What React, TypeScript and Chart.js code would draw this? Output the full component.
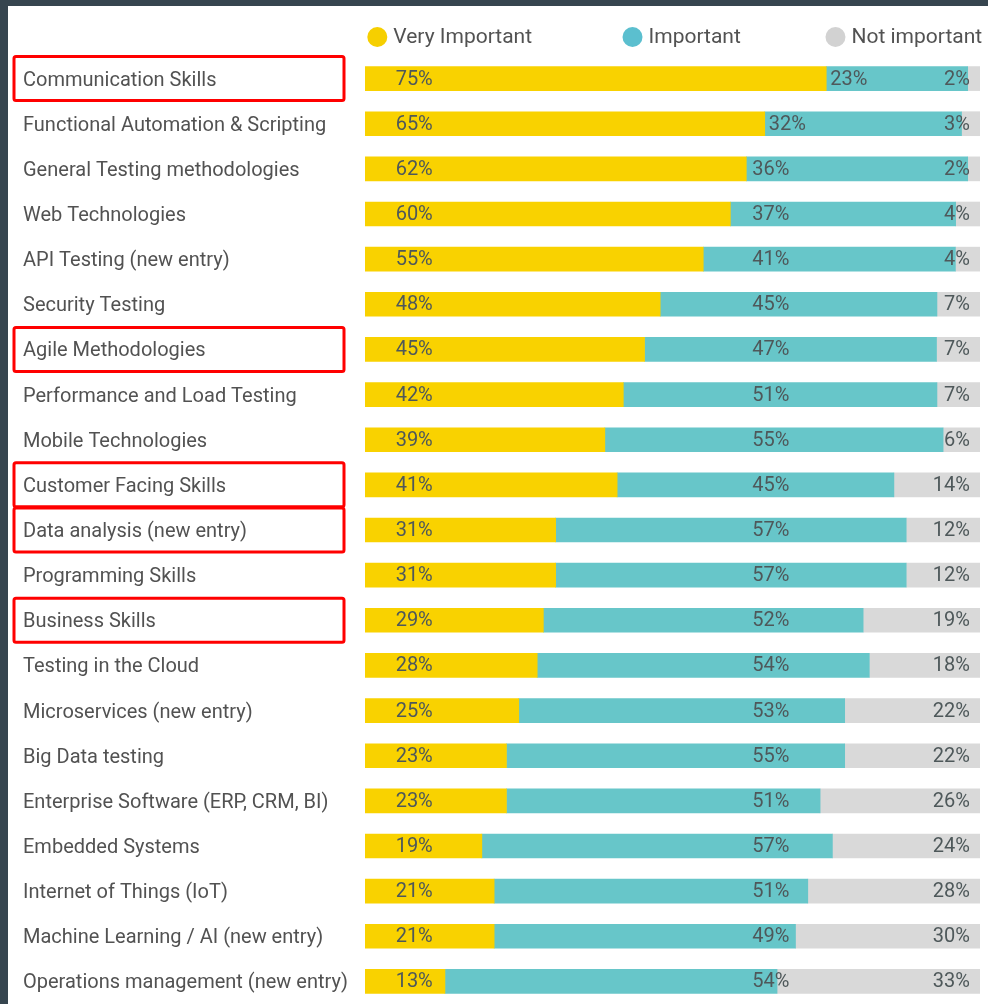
import React, { useEffect, useRef } from "react";
import { Chart, registerables } from "chart.js";

Chart.register(...registerables);

const categories: string[] = [
  "Communication Skills",
  "Functional Automation & Scripting",
  "General Testing methodologies",
  "Web Technologies",
  "API Testing (new entry)",
  "Security Testing",
  "Agile Methodologies",
  "Performance and Load Testing",
  "Mobile Technologies",
  "Customer Facing Skills",
  "Data analysis (new entry)",
  "Programming Skills",
  "Business Skills",
  "Testing in the Cloud",
  "Microservices (new entry)",
  "Big Data testing",
  "Enterprise Software (ERP, CRM, BI)",
  "Embedded Systems",
  "Internet of Things (IoT)",
  "Machine Learning / AI (new entry)",
  "Operations management (new entry)",
];

const veryImportant: number[] = [75, 65, 62, 60, 55, 48, 45, 42, 39, 41, 31, 31, 29, 28, 25, 23, 23, 19, 21, 21, 13];
const important: number[] = [23, 32, 36, 37, 41, 45, 47, 51, 55, 45, 57, 57, 52, 54, 53, 55, 51, 57, 51, 49, 54];
const notImportant: number[] = [2, 3, 2, 4, 4, 7, 7, 7, 6, 14, 12, 12, 19, 18, 22, 22, 26, 24, 28, 30, 33];

const seriesNames: string[] = ["Very Important", "Important", "Not important"];
const highlighted: string[] = [
  "Communication Skills",
  "Agile Methodologies",
  "Customer Facing Skills",
  "Data analysis (new entry)",
  "Business Skills",
];

const BAR_COLORS = ["#F9D200", "#67C6C9", "#D9D9D9"];
const LEGEND_COLORS = ["#F6CF00", "#5BBFCF", "#D2D2D2"];
const TEXT_COLOR = "#525252";
const VALUE_COLOR = "#4e585a";
const FONT = "Roboto";

const rawSeries = [veryImportant, important, notImportant];
const totals = categories.map((_, i) => veryImportant[i] + important[i] + notImportant[i]);
const normalized = rawSeries.map((s) => s.map((v, i) => (v * 100) / totals[i]));

const overlayPlugin = {
  id: "overlay",
  afterDatasetsDraw(chart: any) {
    const ctx = chart.ctx as CanvasRenderingContext2D;
    const xs = chart.scales.x;
    const area = chart.chartArea;
    ctx.save();
    ctx.font = `20px ${FONT}`;
    ctx.fillStyle = VALUE_COLOR;
    ctx.textBaseline = "middle";
    for (let d = 0; d < 3; d++) {
      const meta = chart.getDatasetMeta(d);
      meta.data.forEach((bar: any, j: number) => {
        const label = `${rawSeries[d][j]}%`;
        const y = bar.y + 1;
        const w = ctx.measureText(label).width;
        if (d === 0) {
          ctx.textAlign = "center";
          ctx.fillText(label, xs.getPixelForValue(8), y);
        } else if (d === 1) {
          ctx.textAlign = "center";
          const start = Math.min(bar.base, bar.x);
          const cx = Math.max(xs.getPixelForValue(66), start + 4 + w / 2);
          ctx.fillText(label, cx, y);
        } else {
          ctx.textAlign = "right";
          ctx.fillText(label, area.right - 10, y);
        }
      });
    }
    ctx.restore();
  },
  afterDraw(chart: any) {
    const ctx = chart.ctx as CanvasRenderingContext2D;
    const xs = chart.scales.x;
    const ys = chart.scales.y;
    ctx.save();
    // legend
    const legendX = [2, 43.5, 76.5];
    ctx.font = `21px ${FONT}`;
    ctx.textBaseline = "middle";
    ctx.textAlign = "left";
    seriesNames.forEach((name, i) => {
      const cx = xs.getPixelForValue(legendX[i]);
      const cy = 31;
      ctx.beginPath();
      ctx.arc(cx, cy, 10, 0, Math.PI * 2);
      ctx.fillStyle = LEGEND_COLORS[i];
      ctx.fill();
      ctx.fillStyle = TEXT_COLOR;
      ctx.fillText(name, cx + 16, cy + 1);
    });
    // highlight boxes
    ctx.strokeStyle = "#FF0000";
    ctx.lineWidth = 3;
    highlighted.forEach((name) => {
      const idx = categories.indexOf(name);
      if (idx < 0) return;
      const cy = ys.getPixelForValue(idx);
      const x0 = 6;
      const x1 = 336;
      const top = cy - 22;
      const h = 44;
      ctx.beginPath();
      if ((ctx as any).roundRect) {
        (ctx as any).roundRect(x0, top, x1 - x0, h, 2);
      } else {
        ctx.rect(x0, top, x1 - x0, h);
      }
      ctx.stroke();
    });
    ctx.restore();
  },
};

export default function App() {
  const canvasRef = useRef<HTMLCanvasElement | null>(null);

  useEffect(() => {
    if (!canvasRef.current) return;
    const chart = new Chart(canvasRef.current, {
      type: "bar",
      data: {
        labels: categories,
        datasets: seriesNames.map((name, i) => ({
          label: name,
          data: normalized[i],
          backgroundColor: BAR_COLORS[i],
          borderWidth: 0,
          barThickness: 24,
        })),
      },
      options: {
        indexAxis: "y",
        responsive: false,
        animation: false,
        layout: { padding: { top: 50, bottom: 0, left: 15, right: 8 } },
        plugins: {
          legend: { display: false },
          tooltip: { enabled: false },
        },
        scales: {
          x: {
            stacked: true,
            min: 0,
            max: 100,
            display: false,
          },
          y: {
            stacked: true,
            grid: { display: false },
            border: { display: false },
            ticks: {
              crossAlign: "far",
              color: TEXT_COLOR,
              font: { family: FONT, size: 20 },
              padding: 0,
              labelOffset: 2,
              autoSkip: false,
            },
            afterFit: (scale: any) => {
              scale.width = 342;
              scale.paddingTop = 0;
              scale.paddingBottom = 0;
            },
          },
        },
      },
      plugins: [overlayPlugin],
    } as any);
    return () => chart.destroy();
  }, []);

  return (
    <div
      style={{
        position: "fixed",
        left: 0,
        top: 0,
        width: 988,
        height: 1004,
        background: "#36454F",
        overflow: "hidden",
      }}
    >
      <div
        style={{
          position: "absolute",
          left: 8,
          top: 6,
          width: 980,
          height: 998,
          background: "#FFFFFF",
          overflow: "hidden",
        }}
      >
        <canvas ref={canvasRef} width={980} height={998} style={{ display: "block" }} />
      </div>
    </div>
  );
}
